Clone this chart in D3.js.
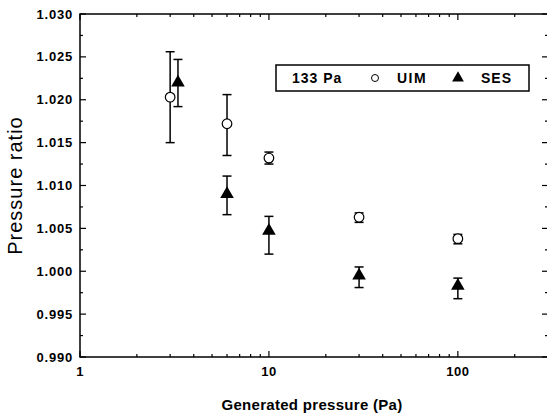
<!DOCTYPE html>
<html><head><meta charset="utf-8">
<script src="https://cdn.jsdelivr.net/npm/d3@7"></script>
<style>body{margin:0;background:#fff}svg{display:block}text{font-family:"Liberation Sans",Arial,sans-serif}</style>
</head><body><svg id="c" width="547" height="419"></svg>
<script>
// Data
const uimX = [3, 6, 10, 30, 100];
const uimY = [1.0203, 1.0172, 1.0132, 1.0063, 1.0038];
const uimLo = [1.0150, 1.0135, 1.0125, 1.0057, 1.0032];
const uimHi = [1.0256, 1.0206, 1.0139, 1.0068, 1.0043];
const sesX = [3.3, 6, 10, 30, 100];
const sesY = [1.0220, 1.0090, 1.0047, 0.9995, 0.9983];
const sesLo = [1.0192, 1.0066, 1.0020, 0.9981, 0.9968];
const sesHi = [1.0247, 1.0111, 1.0064, 1.0005, 0.9992];
const yTicks = [0.990, 0.995, 1.000, 1.005, 1.010, 1.015, 1.020, 1.025, 1.030];
const xTickLabels = [1, 10, 100];
const legendTitle = "133 Pa";
const seriesNames = ["UIM", "SES"];

const svg = d3.select("#c");
const L = 80, R = 548, T = 14, B = 357;
const x = d3.scaleLog().domain([1, 300]).range([L, R]);
const y = d3.scaleLinear().domain([0.990, 1.030]).range([B, T]);

// frame
svg.append("rect").attr("x", L).attr("y", T).attr("width", R - L).attr("height", B - T)
  .attr("fill", "none").attr("stroke", "#000").attr("stroke-width", 1.5);

// x ticks
const xMinor = [];
for (let d = 1; d <= 100; d *= 10) for (let k = 2; k <= 9; k++) if (d * k <= 300) xMinor.push(d * k);
const tg = svg.append("g").attr("stroke", "#000").attr("stroke-width", 1.2);
xTickLabels.forEach(v => {
  tg.append("line").attr("x1", x(v)).attr("x2", x(v)).attr("y1", B).attr("y2", B - 6);
  tg.append("line").attr("x1", x(v)).attr("x2", x(v)).attr("y1", T).attr("y2", T + 6);
});
xMinor.forEach(v => {
  tg.append("line").attr("x1", x(v)).attr("x2", x(v)).attr("y1", B).attr("y2", B - 3);
  tg.append("line").attr("x1", x(v)).attr("x2", x(v)).attr("y1", T).attr("y2", T + 3);
});
// y ticks
yTicks.forEach((v, i) => {
  tg.append("line").attr("x1", L).attr("x2", L + 6).attr("y1", y(v)).attr("y2", y(v));
  tg.append("line").attr("x1", R).attr("x2", R - 6).attr("y1", y(v)).attr("y2", y(v));
  if (i < yTicks.length - 1) {
    const m = (v + yTicks[i + 1]) / 2;
    tg.append("line").attr("x1", L).attr("x2", L + 3).attr("y1", y(m)).attr("y2", y(m));
    tg.append("line").attr("x1", R).attr("x2", R - 3).attr("y1", y(m)).attr("y2", y(m));
  }
});

// tick labels
svg.append("g").selectAll("text").data(yTicks).join("text")
  .attr("x", L - 7).attr("y", d => y(d)).attr("dy", "0.35em").attr("text-anchor", "end")
  .attr("font-size", 13).attr("font-weight", "bold").attr("letter-spacing", 0.8)
  .text(d => d3.format(".3f")(d));
svg.append("g").selectAll("text").data(xTickLabels).join("text")
  .attr("x", d => x(d)).attr("y", B + 19).attr("text-anchor", "middle")
  .attr("font-size", 13).attr("font-weight", "bold").attr("letter-spacing", 0.5).text(d => d);

// axis titles
svg.append("text").attr("x", 312).attr("y", 410).attr("text-anchor", "middle")
  .attr("font-size", 15).attr("font-weight", "bold").attr("letter-spacing", 0.3).text("Generated pressure (Pa)");
svg.append("text").attr("transform", `translate(22,${(T + B) / 2}) rotate(-90)`)
  .attr("text-anchor", "middle").attr("font-size", 20).attr("letter-spacing", 1).text("Pressure ratio");

// error bars
function errBars(xs, lo, hi) {
  const g = svg.append("g").attr("stroke", "#000").attr("stroke-width", 1.5);
  xs.forEach((xv, i) => {
    const cx = x(xv);
    g.append("line").attr("x1", cx).attr("x2", cx).attr("y1", y(lo[i])).attr("y2", y(hi[i]));
    g.append("line").attr("x1", cx - 4.5).attr("x2", cx + 4.5).attr("y1", y(lo[i])).attr("y2", y(lo[i]));
    g.append("line").attr("x1", cx - 4.5).attr("x2", cx + 4.5).attr("y1", y(hi[i])).attr("y2", y(hi[i]));
  });
}
errBars(uimX, uimLo, uimHi);
errBars(sesX, sesLo, sesHi);

// markers
const tri = d3.symbol().type(d3.symbolTriangle).size(80);
svg.append("g").selectAll("circle").data(uimX).join("circle")
  .attr("cx", d => x(d)).attr("cy", (d, i) => y(uimY[i])).attr("r", 4.8)
  .attr("fill", "#fff").attr("stroke", "#000").attr("stroke-width", 1.2);
svg.append("g").selectAll("path").data(sesX).join("path")
  .attr("d", tri).attr("transform", (d, i) => `translate(${x(d)},${y(sesY[i])})`)
  .attr("fill", "#000");

// legend
const lg = svg.append("g");
lg.append("rect").attr("x", 276).attr("y", 65).attr("width", 253).attr("height", 26)
  .attr("fill", "#fff").attr("stroke", "#000").attr("stroke-width", 1.5);
lg.append("text").attr("x", 292).attr("y", 83).attr("font-size", 14).attr("font-weight", "bold").attr("letter-spacing", 1).text(legendTitle);
lg.append("circle").attr("cx", 375).attr("cy", 78).attr("r", 3.5).attr("fill", "#fff").attr("stroke", "#000").attr("stroke-width", 1);
lg.append("text").attr("x", 397).attr("y", 83).attr("font-size", 14).attr("font-weight", "bold").attr("letter-spacing", 1.5).text(seriesNames[0]);
lg.append("path").attr("d", d3.symbol().type(d3.symbolTriangle).size(60)).attr("transform", "translate(458,78)").attr("fill", "#000");
lg.append("text").attr("x", 481).attr("y", 83).attr("font-size", 14).attr("font-weight", "bold").attr("letter-spacing", 1).text(seriesNames[1]);
</script></body></html>
